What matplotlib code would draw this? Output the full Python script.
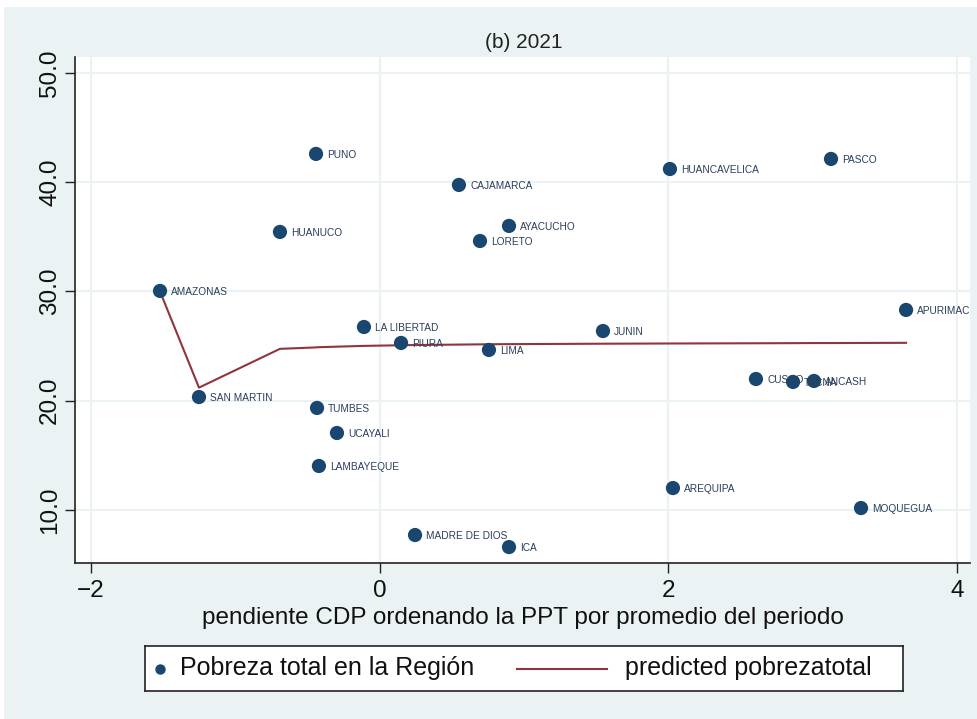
import matplotlib
matplotlib.use('Agg')
import matplotlib.pyplot as plt
import matplotlib.patches as patches
import numpy as np

plt.rcParams['font.family'] = ['Liberation Sans', 'DejaVu Sans']

# Regiones, pendiente CDP (x), pobreza total (y) y valor ajustado
regiones = ['AMAZONAS', 'SAN MARTIN', 'HUANUCO', 'PUNO', 'TUMBES', 'UCAYALI',
            'LAMBAYEQUE', 'LA LIBERTAD', 'PIURA', 'MADRE DE DIOS', 'CAJAMARCA',
            'AYACUCHO', 'LORETO', 'LIMA', 'ICA', 'JUNIN', 'HUANCAVELICA',
            'AREQUIPA', 'CUSCO', 'TACNA', 'ANCASH', 'PASCO', 'MOQUEGUA', 'APURIMAC']
pendiente = [-1.522, -1.252, -0.691, -0.441, -0.434, -0.296,
             -0.421, -0.109, 0.148, 0.245, 0.549,
             0.896, 0.695, 0.757, 0.896, 1.547, 2.011,
             2.032, 2.607, 2.864, 3.009, 3.127, 3.335, 3.647]
pobreza = [30.05, 20.34, 35.45, 42.59, 19.34, 17.05,
           14.03, 26.75, 25.29, 7.71, 39.75,
           36.0, 34.62, 24.65, 6.61, 26.38, 41.21,
           12.01, 21.99, 21.72, 21.81, 42.13, 10.18, 28.31]
predicho = [30.0, 21.2, 24.75, 24.88, 24.89, 24.95,
            24.9, 25.02, 25.08, 25.1, 25.14,
            25.18, 25.16, 25.17, 25.18, 25.22, 25.24,
            25.24, 25.26, 25.27, 25.28, 25.28, 25.29, 25.3]

xticks = [-2, 0, 2, 4]
yticks = [10, 20, 30, 40, 50]

fondo = '#eaf2f3'
azul = '#1a476f'
granate = '#90353b'
texto_etq = '#2b3f5c'

fig = plt.figure(figsize=(9.78, 7.19), dpi=100)
fig.patch.set_facecolor('white')
# region del grafico (fondo celeste)
fig.patches.append(patches.Rectangle((4/978, 0), 1, 1 - 7/719, transform=fig.transFigure,
                                     facecolor=fondo, edgecolor='none', zorder=-10))

ax = fig.add_axes([75/978, (719-563)/719, (970-75)/978, (563-57)/719])
ax.set_facecolor('white')

# linea de prediccion ordenada por x
orden = np.argsort(pendiente)
px = np.array(pendiente)[orden]
py = np.array(predicho)[orden]
ax.plot(px, py, color=granate, lw=1.5, zorder=3)

ax.scatter(pendiente, pobreza, s=105, color=azul, edgecolors='none', zorder=4)
for r, x, y in zip(regiones, pendiente, pobreza):
    ax.annotate(r, (x, y), xytext=(8, -0.5), textcoords='offset points',
                fontsize=7.3, color=texto_etq, va='center', ha='left', zorder=5)

ax.set_xlim(-2.111, 4.09)
ax.set_ylim(5.15, 51.46)
ax.set_xticks(xticks)
ax.set_yticks(yticks)
ax.set_yticklabels(['%.1f' % v for v in yticks], rotation=90, va='center')
ax.tick_params(axis='both', labelsize=17.5, length=7, width=1, color='#222222',
               labelcolor='#111111')
ax.tick_params(axis='y', pad=3)
ax.tick_params(axis='x', pad=5)
ax.grid(True, color=fondo, lw=1.5, zorder=0)
ax.set_axisbelow(True)
for s in ['top', 'right']:
    ax.spines[s].set_visible(False)
for s in ['left', 'bottom']:
    ax.spines[s].set_color('#222222')
    ax.spines[s].set_linewidth(1.2)

ax.set_xlabel('pendiente CDP ordenando la PPT por promedio del periodo',
              fontsize=17.5, color='#111111', labelpad=4)
fig.text(524/978, 1 - 43/719, '(b) 2021', fontsize=15, color='#222222',
         ha='center', va='center')

# leyenda
lax = fig.add_axes([145/978, (719-691)/719, 758/978, 45/719])
lax.set_xlim(0, 1)
lax.set_ylim(0, 1)
lax.set_xticks([])
lax.set_yticks([])
lax.set_facecolor('white')
for s in lax.spines.values():
    s.set_color('#222222')
    s.set_linewidth(1.2)
lax.plot([0.0198], [0.5], 'o', color=azul, markersize=7.5, markeredgewidth=0)
lax.text(0.0462, 0.5, 'Pobreza total en la Región', fontsize=18,
         color='#111111', va='center', ha='left')
lax.plot([0.4908, 0.6095], [0.5, 0.5], color=granate, lw=1.5)
lax.text(0.6332, 0.5, 'predicted pobrezatotal', fontsize=18,
         color='#111111', va='center', ha='left')

fig.savefig('out.png', dpi=100, facecolor=fig.get_facecolor())
